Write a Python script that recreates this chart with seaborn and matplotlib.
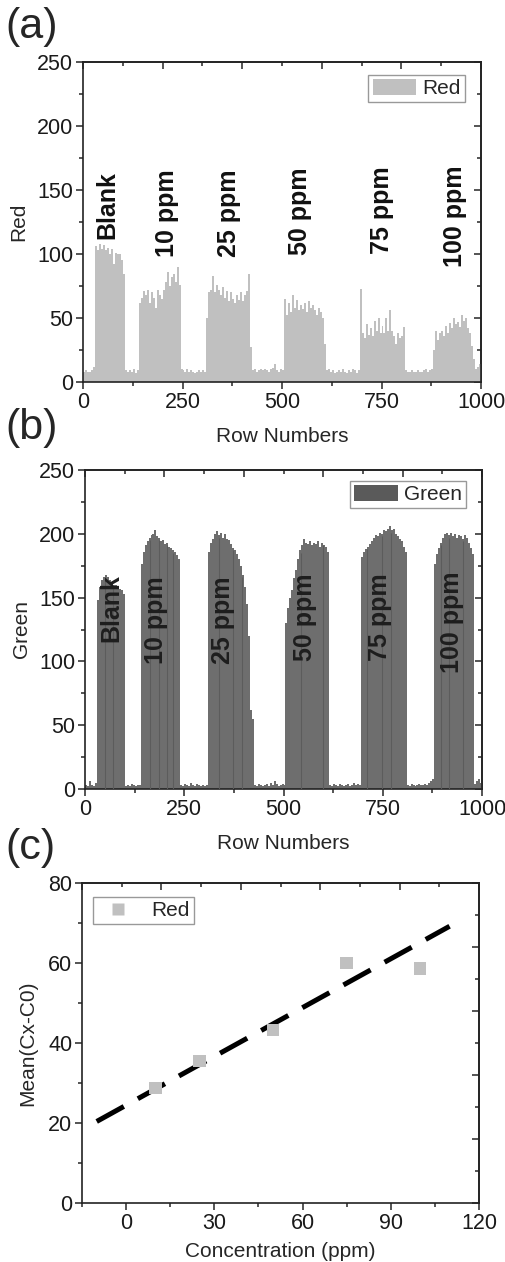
import numpy as np
import pandas as pd
import matplotlib
matplotlib.use('Agg')
import matplotlib.pyplot as plt
from matplotlib.patches import Patch
from matplotlib.lines import Line2D
from matplotlib.ticker import MultipleLocator
import seaborn as sns

# intensity profiles, mean of each 5-row block
red = [8, 9, 8, 8, 9, 12, 106, 103, 108, 104,
       107, 103, 105, 100, 104, 92, 101, 100, 100, 95,
       84, 9, 8, 9, 8, 10, 7, 9, 62, 66,
       71, 68, 72, 62, 70, 66, 58, 72, 68, 65,
       72, 78, 86, 75, 82, 84, 78, 90, 76, 10,
       9, 8, 10, 8, 9, 8, 7, 8, 9, 8,
       9, 8, 50, 70, 72, 83, 70, 76, 72, 68,
       74, 66, 71, 63, 70, 65, 62, 68, 64, 70,
       63, 68, 71, 84, 27, 9, 10, 8, 9, 10,
       9, 10, 9, 8, 10, 11, 14, 9, 8, 10,
       9, 65, 52, 62, 55, 68, 58, 64, 56, 60,
       57, 62, 55, 63, 58, 60, 56, 52, 58, 55,
       50, 30, 9, 10, 8, 9, 7, 8, 9, 8,
       10, 8, 7, 9, 8, 10, 9, 7, 9, 73,
       38, 34, 45, 37, 42, 36, 48, 40, 50, 38,
       44, 38, 50, 40, 56, 40, 36, 30, 38, 34,
       36, 43, 9, 8, 8, 9, 8, 8, 9, 8,
       8, 9, 10, 8, 9, 10, 25, 40, 33, 38,
       40, 36, 44, 38, 46, 42, 50, 45, 47, 43,
       52, 48, 50, 42, 38, 28, 18, 10, 12, 14]

green = [3, 2, 6, 3, 2, 5, 148, 158, 164, 166,
         168, 166, 164, 162, 160, 160, 158, 157, 156, 153,
         2, 3, 2, 4, 3, 2, 3, 3, 176, 186,
         191, 194, 197, 199, 200, 203, 198, 197, 194, 195,
         192, 193, 190, 189, 187, 186, 183, 180, 3, 2,
         4, 3, 2, 5, 3, 2, 4, 3, 2, 3,
         2, 3, 186, 193, 196, 200, 202, 199, 201, 197,
         200, 196, 195, 192, 189, 187, 184, 180, 175, 168,
         158, 145, 120, 62, 55, 3, 2, 4, 3, 2,
         3, 4, 2, 5, 3, 6, 4, 2, 3, 4,
         3, 130, 142, 150, 156, 165, 172, 180, 187, 191,
         196, 193, 192, 194, 191, 193, 192, 194, 190, 193,
         191, 190, 186, 3, 2, 4, 3, 2, 4, 3,
         2, 3, 4, 2, 3, 5, 3, 4, 3, 182,
         186, 188, 190, 192, 194, 197, 199, 198, 201, 200,
         203, 202, 204, 206, 203, 204, 200, 198, 196, 194,
         190, 186, 3, 2, 4, 3, 2, 3, 4, 3,
         3, 4, 3, 5, 6, 8, 176, 184, 189, 193,
         197, 200, 201, 199, 201, 198, 200, 197, 199, 198,
         196, 199, 197, 193, 189, 184, 4, 6, 8, 5]

# rows where the green profile shows darker seams
green_seams = [50, 71, 164, 186, 206, 221, 338, 372, 395,
               543, 599, 711, 747, 770, 896, 918, 952]

samples = ['Blank', '10 ppm', '25 ppm', '50 ppm', '75 ppm', '100 ppm']

# panel (c)
conc = [10, 25, 50, 75, 100]
mean_red = [28.8, 35.5, 43.3, 60.0, 58.6]
fit_slope, fit_intercept = 0.4067, 24.45
fit_span = [-10, 110]

bin_w = 5
rows = np.arange(len(red)) * bin_w + bin_w / 2

sns.set_style('ticks')
plt.rcParams['font.family'] = ['Liberation Sans', 'DejaVu Sans']
plt.rcParams['font.size'] = 15
plt.rcParams['axes.linewidth'] = 1.2
plt.rcParams['axes.edgecolor'] = '#222222'

fig = plt.figure(figsize=(5.05, 12.62), dpi=100)
W, H = 505, 1262


def make_ax(l, t, r, b):
    return fig.add_axes([l / W, 1 - b / H, (r - l) / W, (b - t) / H])


def style_axis(ax, xmaj, xmin, ymaj, ymin):
    ax.xaxis.set_major_locator(MultipleLocator(xmaj))
    ax.xaxis.set_minor_locator(MultipleLocator(xmin))
    ax.yaxis.set_major_locator(MultipleLocator(ymaj))
    ax.yaxis.set_minor_locator(MultipleLocator(ymin))
    ax.tick_params(which='major', direction='out', length=5, width=1.1,
                   labelsize=15.5, top=False, right=False, pad=2,
                   labelcolor='#1a1a1a')
    ax.tick_params(which='minor', direction='out', length=3, width=1.1,
                   top=False, right=False)
    x0, x1 = ax.get_xlim()
    y0, y1 = ax.get_ylim()
    # mirrored top/right axes, ticks every tenth of the frame
    top = ax.secondary_xaxis('top', functions=(lambda v: (v - x0) / (x1 - x0),
                                                lambda f: x0 + f * (x1 - x0)))
    right = ax.secondary_yaxis('right', functions=(lambda v: (v - y0) / (y1 - y0),
                                                    lambda f: y0 + f * (y1 - y0)))
    for sec, axis in ((top, top.xaxis), (right, right.yaxis)):
        axis.set_major_locator(MultipleLocator(0.2))
        axis.set_minor_locator(MultipleLocator(0.1))
        sec.tick_params(which='major', direction='in', length=5, width=1.1,
                        labeltop=False, labelright=False)
        sec.tick_params(which='minor', direction='in', length=3, width=1.1)
    for s in ('top', 'right'):
        ax.spines[s].set_visible(True)


def profile_panel(ax, values, color, name, lab_x, lab_y, lab_color):
    df = pd.DataFrame({'row': rows, 'value': values})
    sns.histplot(data=df, x='row', weights='value', binwidth=bin_w,
                 binrange=(0, 1000), element='step', fill=True,
                 color=color, alpha=1, linewidth=0, ax=ax)
    ax.set_xlim(0, 1000)
    ax.set_ylim(0, 250)
    ax.set_xlabel('Row Numbers', fontsize=15, labelpad=10)
    ax.set_ylabel(name, fontsize=15, labelpad=6)
    for s, xx, yy in zip(samples, lab_x, lab_y):
        ax.text(xx, yy, s, rotation=90, ha='center', va='bottom',
                fontsize=18, fontweight='bold', color=lab_color, zorder=5)
    style_axis(ax, 250, 125, 50, 25)


legend_kw = dict(borderaxespad=0, fancybox=False, edgecolor='#999999',
                 framealpha=1, fontsize=15)

# (a) red channel
ax_a = make_ax(83, 62, 481, 382)
profile_panel(ax_a, red, '#c0c0c0', 'Red',
              [60, 210, 366, 545, 750, 935], [112, 98, 98, 99, 100, 90], '#111111')
ax_a.legend(handles=[Patch(facecolor='#c0c0c0', edgecolor='none')], labels=['Red'],
            loc='upper right', bbox_to_anchor=(0.96, 0.96),
            handlelength=2.1, handleheight=0.8, handletextpad=0.3, borderpad=0.2,
            **legend_kw)

# (b) green channel
ax_b = make_ax(85, 470, 482, 789)
profile_panel(ax_b, green, '#6e6e6e', 'Green',
              [67, 180, 348, 554, 743, 924], [115, 98, 98, 100, 100, 91], '#1e1e1e')
seam_h = [green[int(r // bin_w)] - 2 for r in green_seams]
ax_b.vlines(green_seams, 0, seam_h, colors='#5c5c5c', linewidth=0.8, zorder=3)
ax_b.legend(handles=[Patch(facecolor='#5a5a5a', edgecolor='none')], labels=['Green'],
            loc='upper right', bbox_to_anchor=(0.96, 0.966),
            handlelength=2.1, handleheight=0.8, handletextpad=0.3, borderpad=0.2,
            **legend_kw)

# (c) calibration
ax_c = make_ax(82, 883, 479, 1203)
sns.scatterplot(x=conc, y=mean_red, marker='s', s=80, color='#c0c0c0',
                edgecolor='none', ax=ax_c, zorder=3)
fit_x = np.array(fit_span)
sns.lineplot(x=fit_x, y=fit_slope * fit_x + fit_intercept, color='black',
             linewidth=3.6, linestyle=(0, (6.2, 3.2)), ax=ax_c, zorder=2)
ax_c.lines[-1].set_dash_capstyle('butt')
ax_c.set_xlim(-15, 120)
ax_c.set_ylim(0, 80)
ax_c.set_xlabel('Concentration (ppm)', fontsize=15, labelpad=6)
ax_c.set_ylabel('Mean(Cx-C0)', fontsize=15, labelpad=8)
style_axis(ax_c, 30, 15, 20, 10)
ax_c.legend(handles=[Line2D([], [], marker='s', linestyle='none', markersize=9,
                            markerfacecolor='#c0c0c0', markeredgecolor='none')],
            labels=['Red'], loc='upper left', bbox_to_anchor=(0.028, 0.956),
            handlelength=2.0, handletextpad=0.6, borderpad=0.2, **legend_kw)

for lab, yc in (('(a)', 27), ('(b)', 428), ('(c)', 848)):
    fig.text(5 / W, 1 - yc / H, lab, fontsize=31, ha='left', va='center')

fig.savefig('out.png', dpi=100)
